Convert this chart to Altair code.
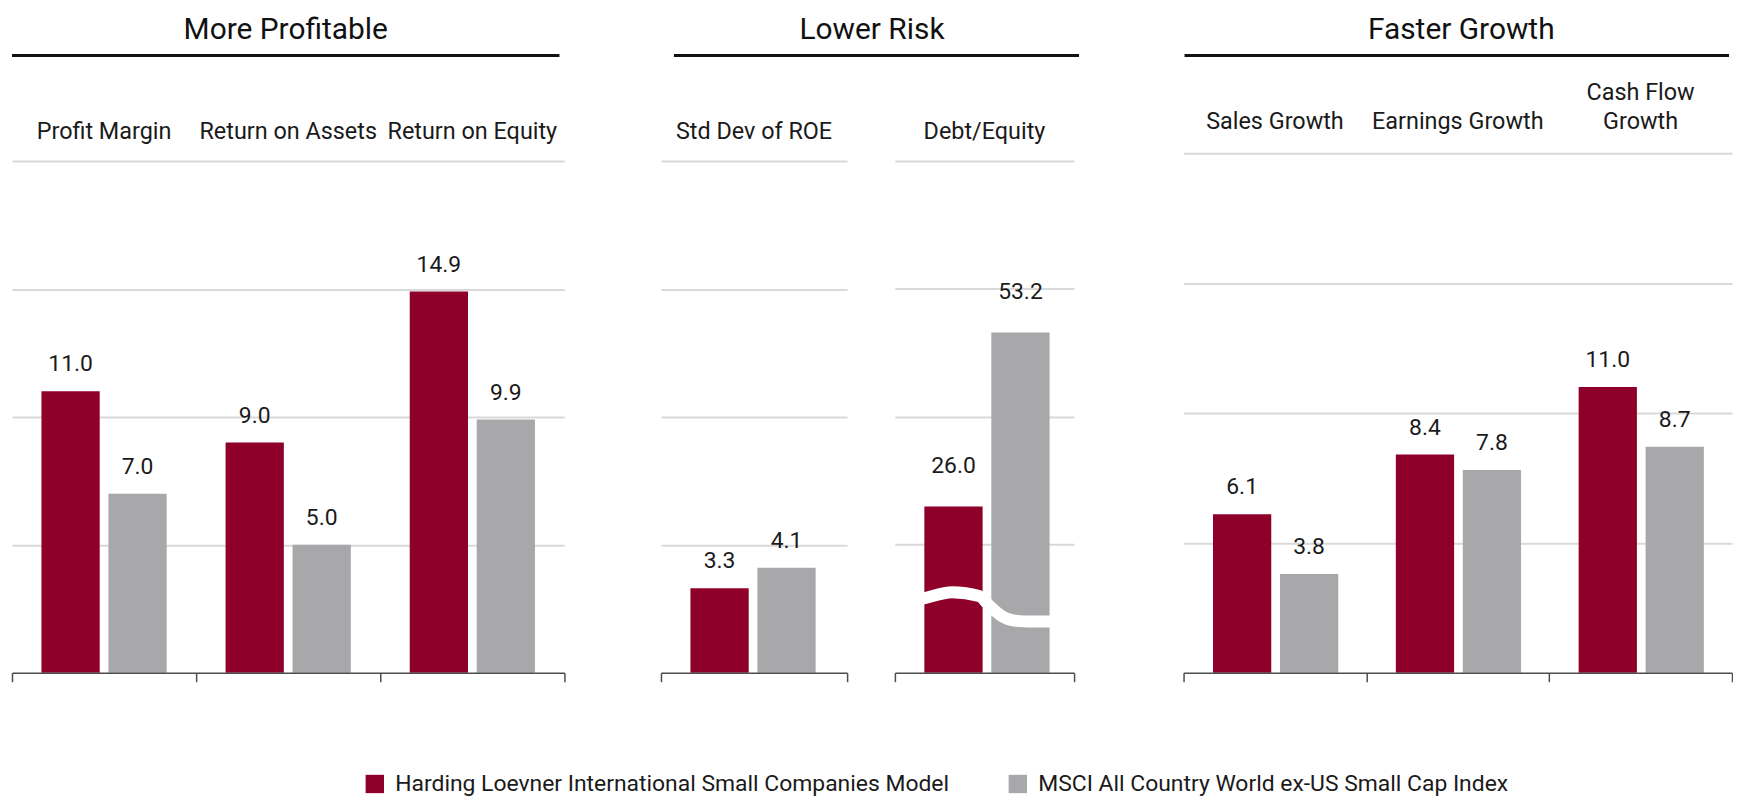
import altair as alt
import pandas as pd

series = ["Harding Loevner International Small Companies Model",
          "MSCI All Country World ex-US Small Cap Index"]
colors = ["#8E0029", "#A8A8AA"]

prof_cats = ["Profit Margin", "Return on Assets", "Return on Equity"]
prof_hl = [11.0, 9.0, 14.9]
prof_msci = [7.0, 5.0, 9.9]

risk1_cats = ["Std Dev of ROE"]
risk1_hl = [3.3]
risk1_msci = [4.1]

risk2_cats = ["Debt/Equity"]
risk2_hl = [26.0]
risk2_msci = [53.2]

grow_cats = ["Sales Growth", "Earnings Growth", "Cash Flow\nGrowth"]
grow_hl = [6.1, 8.4, 11.0]
grow_msci = [3.8, 7.8, 8.7]

group_titles = ["More Profitable", "Lower Risk", "Faster Growth"]

# axis-break squiggle on the Debt/Equity bars (panel fraction, value)
break_x = [0.10, 0.16, 0.32, 0.47, 0.53, 0.60, 0.66, 0.75, 0.90]
break_y = [11.2, 11.6, 12.6, 12.0, 10.4, 8.8, 8.2, 8.0, 8.0]

FONT = "Roboto"
TXT = "#1a1a1a"
AX = "#4d4d4d"
H = 522
LH = 29     # category label line height


def panel(cats, hl, msci, width, ymax, grid_vals, pi, po, label_dy,
          head=None, brk=False, lp=10):
    df = pd.DataFrame({
        "cat": cats * 2,
        "series": [series[0]] * len(cats) + [series[1]] * len(cats),
        "value": hl + msci,
    })
    xscale = alt.Scale(domain=cats, paddingInner=0, paddingOuter=0)
    yscale = alt.Scale(domain=[0, ymax], nice=False, zero=True)
    yaxis = alt.Axis(values=grid_vals, grid=True, labels=False, ticks=False,
                     domain=False, title=None, gridColor="#D9D9D9", gridWidth=2)
    xoff = alt.XOffset("series:N", sort=series,
                       scale=alt.Scale(domain=series, paddingInner=pi, paddingOuter=po))
    color = alt.Color("series:N", sort=series,
                      scale=alt.Scale(domain=series, range=colors),
                      legend=alt.Legend(title=None))
    bars = alt.Chart(df).mark_bar().encode(
        x=alt.X("cat:N", sort=cats, scale=xscale,
                axis=alt.Axis(orient="bottom", labels=False, title=None, tickBand="extent",
                              tickSize=9, tickColor=AX, tickWidth=1.5, domainColor=AX,
                              domainWidth=1.5, grid=False, zindex=1)),
        xOffset=xoff,
        y=alt.Y("value:Q", scale=yscale, axis=yaxis),
        color=color,
    )
    text = alt.Chart(df).mark_text(dy=label_dy, baseline="alphabetic", fontSize=23,
                                   font=FONT, color=TXT).encode(
        x=alt.X("cat:N", sort=cats, scale=xscale,
                axis=alt.Axis(orient="top", title=None, ticks=False, tickSize=0, domain=False,
                              labelPadding={"condition": {"test": "indexof(datum.value, '\\n') >= 0",
                                                          "value": lp + LH},
                                            "value": lp},
                              labelFontSize=23.5, labelFont=FONT,
                              labelColor=TXT, labelAngle=0, labelLimit=400,
                              labelExpr="split(datum.label, '\\n')", labelLineHeight=LH,
                              grid=False)),
        xOffset=xoff,
        y=alt.Y("value:Q", scale=yscale, axis=yaxis),
        text=alt.Text("value:Q", format=".1f"),
    )
    layers = [bars]
    if brk:
        bdf = pd.DataFrame({"bx": break_x, "by": break_y})
        squig = alt.Chart(bdf).mark_line(color="white", strokeWidth=12,
                                         interpolate="monotone").encode(
            x=alt.X("bx:Q", scale=alt.Scale(domain=[0, 1], nice=False, zero=False), axis=None),
            y=alt.Y("by:Q", scale=yscale, axis=yaxis),
            order="bx:Q",
        )
        layers.append(squig)
    layers.append(text)
    if head is not None:
        label, cx, x0, x1 = head
        one = pd.DataFrame({"t": [label]})
        rule = alt.Chart(one).mark_rule(color="#111111", strokeWidth=3).encode(
            x=alt.value(x0), x2=alt.value(x1), y=alt.value(-98))
        ttl = alt.Chart(one).mark_text(fontSize=30, font=FONT, color="#111111",
                                       align="center", baseline="alphabetic").encode(
            x=alt.value(cx), y=alt.value(-115), text="t:N")
        layers += [rule, ttl]
    ch = alt.layer(*layers).properties(width=width, height=H)
    if brk:
        ch = ch.resolve_scale(x="independent").resolve_axis(x="independent")
    else:
        ch = ch.resolve_axis(x="independent")
    return ch


def spacer(w):
    return alt.Chart(pd.DataFrame({"t": [0]})).mark_point(opacity=0).encode(
        x=alt.value(0), y=alt.value(0)).properties(width=w, height=H)


p1 = panel(prof_cats, prof_hl, prof_msci, 555, 20.3113, [5, 10, 15, 20],
           0.13, 0.44, -20, head=(group_titles[0], 275, 0, 550))
p2a = panel(risk1_cats, risk1_hl, risk1_msci, 187, 20.3113, [5, 10, 15, 20],
            0.12, 0.455, -20, head=(group_titles[1], 212, 13, 420))
p2b = panel(risk2_cats, risk2_hl, risk2_msci, 180, 81.245, [20, 40, 60, 80],
            0.15, 0.417, -34, brk=True)
p3 = panel(grow_cats, grow_hl, grow_msci, 551, 20, [5, 10, 15, 20],
           0.13, 0.44, -20, head=(group_titles[2], 279, 1, 548), lp=20)

chart = alt.hconcat(p1, spacer(97), p2a, spacer(48), p2b, spacer(110), p3,
                    spacing=0, bounds="flush").properties(
    padding={"left": 2, "top": 5, "right": 0, "bottom": 0}
).configure_view(strokeWidth=0).configure_legend(
    orient="none", legendX=353, legendY=622, direction="horizontal",
    symbolType="square", symbolSize=340, symbolStrokeWidth=0,
    labelFontSize=23, labelFont=FONT, labelColor=TXT, columnPadding=57,
    labelOffset=9, labelLimit=0, padding=0,
)

chart.save("out.html", embed_options={"renderer": "svg", "actions": False})
